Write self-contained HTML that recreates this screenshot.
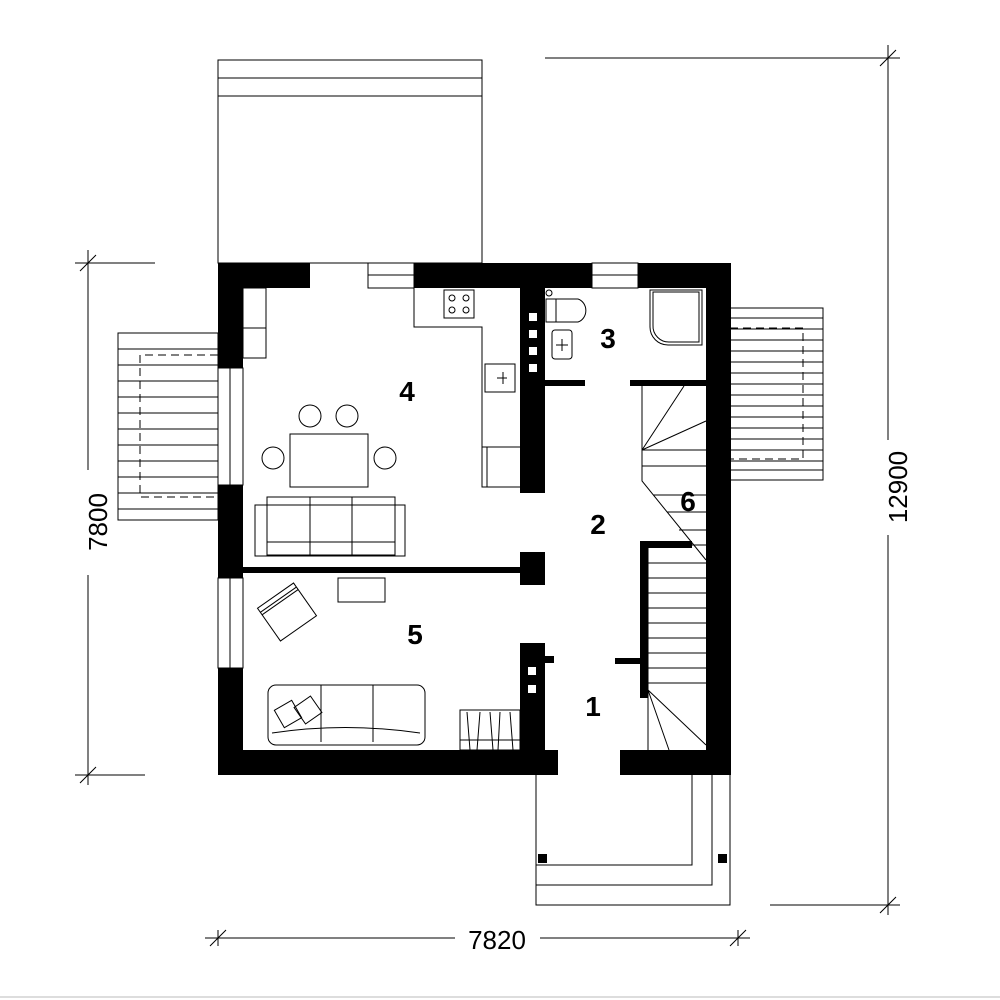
<!DOCTYPE html><html><head><style>body{margin:0;background:#fff}svg{display:block}text{font-family:"Liberation Sans",sans-serif}</style></head><body>
<svg width="1000" height="1000" viewBox="0 0 1000 1000" xmlns="http://www.w3.org/2000/svg">
<g fill="none" stroke="#000" stroke-width="1">
<rect x="218" y="60" width="264" height="203"/><line x1="218" y1="78" x2="482" y2="78"/><line x1="218" y1="96" x2="482" y2="96"/>
<rect x="118" y="333" width="100" height="187"/>
<g><line x1="118" y1="349" x2="218" y2="349"/><line x1="118" y1="365" x2="218" y2="365"/><line x1="118" y1="381" x2="218" y2="381"/><line x1="118" y1="397" x2="218" y2="397"/><line x1="118" y1="413" x2="218" y2="413"/><line x1="118" y1="429" x2="218" y2="429"/><line x1="118" y1="445" x2="218" y2="445"/><line x1="118" y1="461" x2="218" y2="461"/><line x1="118" y1="477" x2="218" y2="477"/><line x1="118" y1="493" x2="218" y2="493"/><line x1="118" y1="509" x2="218" y2="509"/></g>
<path d="M218 355H140V497H218" stroke-dasharray="8,5"/>
<rect x="730" y="308" width="93" height="172"/>
<line x1="730" y1="318" x2="823" y2="318"/><line x1="730" y1="329" x2="823" y2="329"/><line x1="730" y1="340" x2="823" y2="340"/><line x1="730" y1="351" x2="823" y2="351"/><line x1="730" y1="362" x2="823" y2="362"/><line x1="730" y1="373" x2="823" y2="373"/><line x1="730" y1="384" x2="823" y2="384"/><line x1="730" y1="395" x2="823" y2="395"/><line x1="730" y1="406" x2="823" y2="406"/><line x1="730" y1="417" x2="823" y2="417"/><line x1="730" y1="428" x2="823" y2="428"/><line x1="730" y1="439" x2="823" y2="439"/><line x1="730" y1="450" x2="823" y2="450"/><line x1="730" y1="461" x2="823" y2="461"/><line x1="730" y1="470" x2="823" y2="470"/>
<path d="M730 328H803V459H730" stroke-dasharray="8,5"/>
<path d="M536 775V905H730V775"/><path d="M536 885H712V775"/><path d="M536 865H692V775"/>
<rect x="368" y="263" width="46" height="25"/><line x1="368" y1="275" x2="414" y2="275"/>
<rect x="592" y="263" width="46" height="25"/><line x1="592" y1="275" x2="638" y2="275"/>
<rect x="218" y="368" width="25" height="117"/><line x1="230" y1="368" x2="230" y2="485"/>
<rect x="218" y="578" width="25" height="90"/><line x1="230" y1="578" x2="230" y2="668"/>
<path d="M414 288V327H482V487H520"/><rect x="444" y="290" width="30" height="28"/>
<circle cx="452" cy="298" r="3"/><circle cx="466" cy="298" r="3"/><circle cx="452" cy="310" r="3"/><circle cx="466" cy="310" r="3"/>
<rect x="485" y="364" width="30" height="28"/><path d="M497 378h10M503 372v12"/>
<path d="M482 447H520M487 447V487"/>
<rect x="243" y="288" width="23" height="70"/><line x1="243" y1="328" x2="266" y2="328"/>
<rect x="290" y="434" width="78" height="53"/>
<circle cx="310" cy="416" r="11"/><circle cx="347" cy="416" r="11"/><circle cx="273" cy="458" r="11"/><circle cx="385" cy="458" r="11"/>
<rect x="255" y="505" width="150" height="51"/><rect x="267" y="497" width="128" height="58"/>
<path d="M310 497V555M352 497V555M267 542H395"/>
<rect x="338" y="578" width="47" height="24"/>
<g transform="rotate(-35 287 612)"><rect x="265" y="592" width="44" height="40"/><line x1="265" y1="597" x2="309" y2="597"/><line x1="265" y1="600" x2="309" y2="600"/></g>
<rect x="268" y="685" width="157" height="60" rx="8"/><path d="M321 685V742M373 685V742M272 733Q345 722 420 733"/>
<rect x="278" y="704" width="20" height="20" transform="rotate(-30 288 714)"/><rect x="298" y="700" width="20" height="20" transform="rotate(-35 308 710)"/>
<rect x="460" y="710" width="60" height="40"/><line x1="460" y1="740" x2="520" y2="740"/>
<path d="M467 712l3 38M480 712l-3 38M490 712l3 38M500 712l-2 38M510 712l3 38"/>
<circle cx="549" cy="293" r="3"/><path d="M546 299H578A11 12 0 0 1 578 322H546Z"/><line x1="556" y1="299" x2="556" y2="322"/>
<rect x="552" y="330" width="20" height="29" rx="3"/><path d="M556 345h12M562 339v12"/>
<path d="M650 290H702V345H668A18 18 0 0 1 650 327Z"/><path d="M653 292H699V342H670A16 16 0 0 1 653 325Z"/>
<path d="M642 386V481L706 560"/><path d="M642 450L684 386M642 450L706 421M642 450H706M642 466H706"/>
<path d="M653 495H706M667 512H706M679 530H706M690 545H706"/>
<path d="M648 548V750"/><path d="M648 563H706M648 578H706M648 593H706M648 608H706M648 623H706M648 638H706M648 653H706M648 668H706M648 683H706"/>
<path d="M648 690L706 745M648 690L669 750"/>
<path d="M88 250V470M88 575V785M75 263H155M75 775H145M80 271l16-16M80 783l16-16"/>
<path d="M888 45V440M888 535V915M545 58H900M770 905H900M880 66l16-16M880 913l16-16"/>
<path d="M205 938H455M540 938H750M210 946l16-16M730 946l16-16M218 930v16M738 930v16"/>
</g>
<line x1="0" y1="997" x2="1000" y2="997" stroke="#bbb"/>
<g fill="#000">
<rect x="218" y="263" width="92" height="25"/><rect x="414" y="263" width="178" height="25"/><rect x="638" y="263" width="93" height="25"/>
<rect x="218" y="263" width="25" height="105"/><rect x="218" y="485" width="25" height="93"/><rect x="218" y="668" width="25" height="107"/>
<rect x="218" y="750" width="340" height="25"/><rect x="620" y="750" width="111" height="25"/>
<rect x="706" y="263" width="25" height="512"/>
<rect x="520" y="288" width="25" height="205"/>
<rect x="545" y="380" width="40" height="6"/><rect x="630" y="380" width="76" height="6"/>
<rect x="243" y="567" width="280" height="6"/><rect x="520" y="552" width="25" height="33"/>
<rect x="520" y="643" width="25" height="107"/><rect x="545" y="656" width="9" height="7"/>
<rect x="640" y="541" width="52" height="7"/><rect x="640" y="541" width="8" height="157"/><rect x="615" y="658" width="25" height="6"/>
<rect x="538" y="854" width="9" height="9"/><rect x="718" y="854" width="9" height="9"/>
</g>
<g fill="#fff"><rect x="529" y="313" width="8" height="8"/><rect x="529" y="330" width="8" height="8"/><rect x="529" y="347" width="8" height="8"/><rect x="529" y="364" width="8" height="8"/><rect x="528" y="667" width="8" height="8"/><rect x="528" y="685" width="8" height="8"/></g>
<g font-size="28" font-weight="bold" text-anchor="middle">
<text x="407" y="401">4</text><text x="608" y="348">3</text><text x="598" y="534">2</text><text x="688" y="511">6</text><text x="415" y="644">5</text><text x="593" y="716">1</text>
</g>
<g font-size="26" text-anchor="middle">
<text x="497" y="949">7820</text>
<text transform="translate(107 522) rotate(-90)">7800</text>
<text transform="translate(907 487) rotate(-90)">12900</text>
</g>
</svg></body></html>
